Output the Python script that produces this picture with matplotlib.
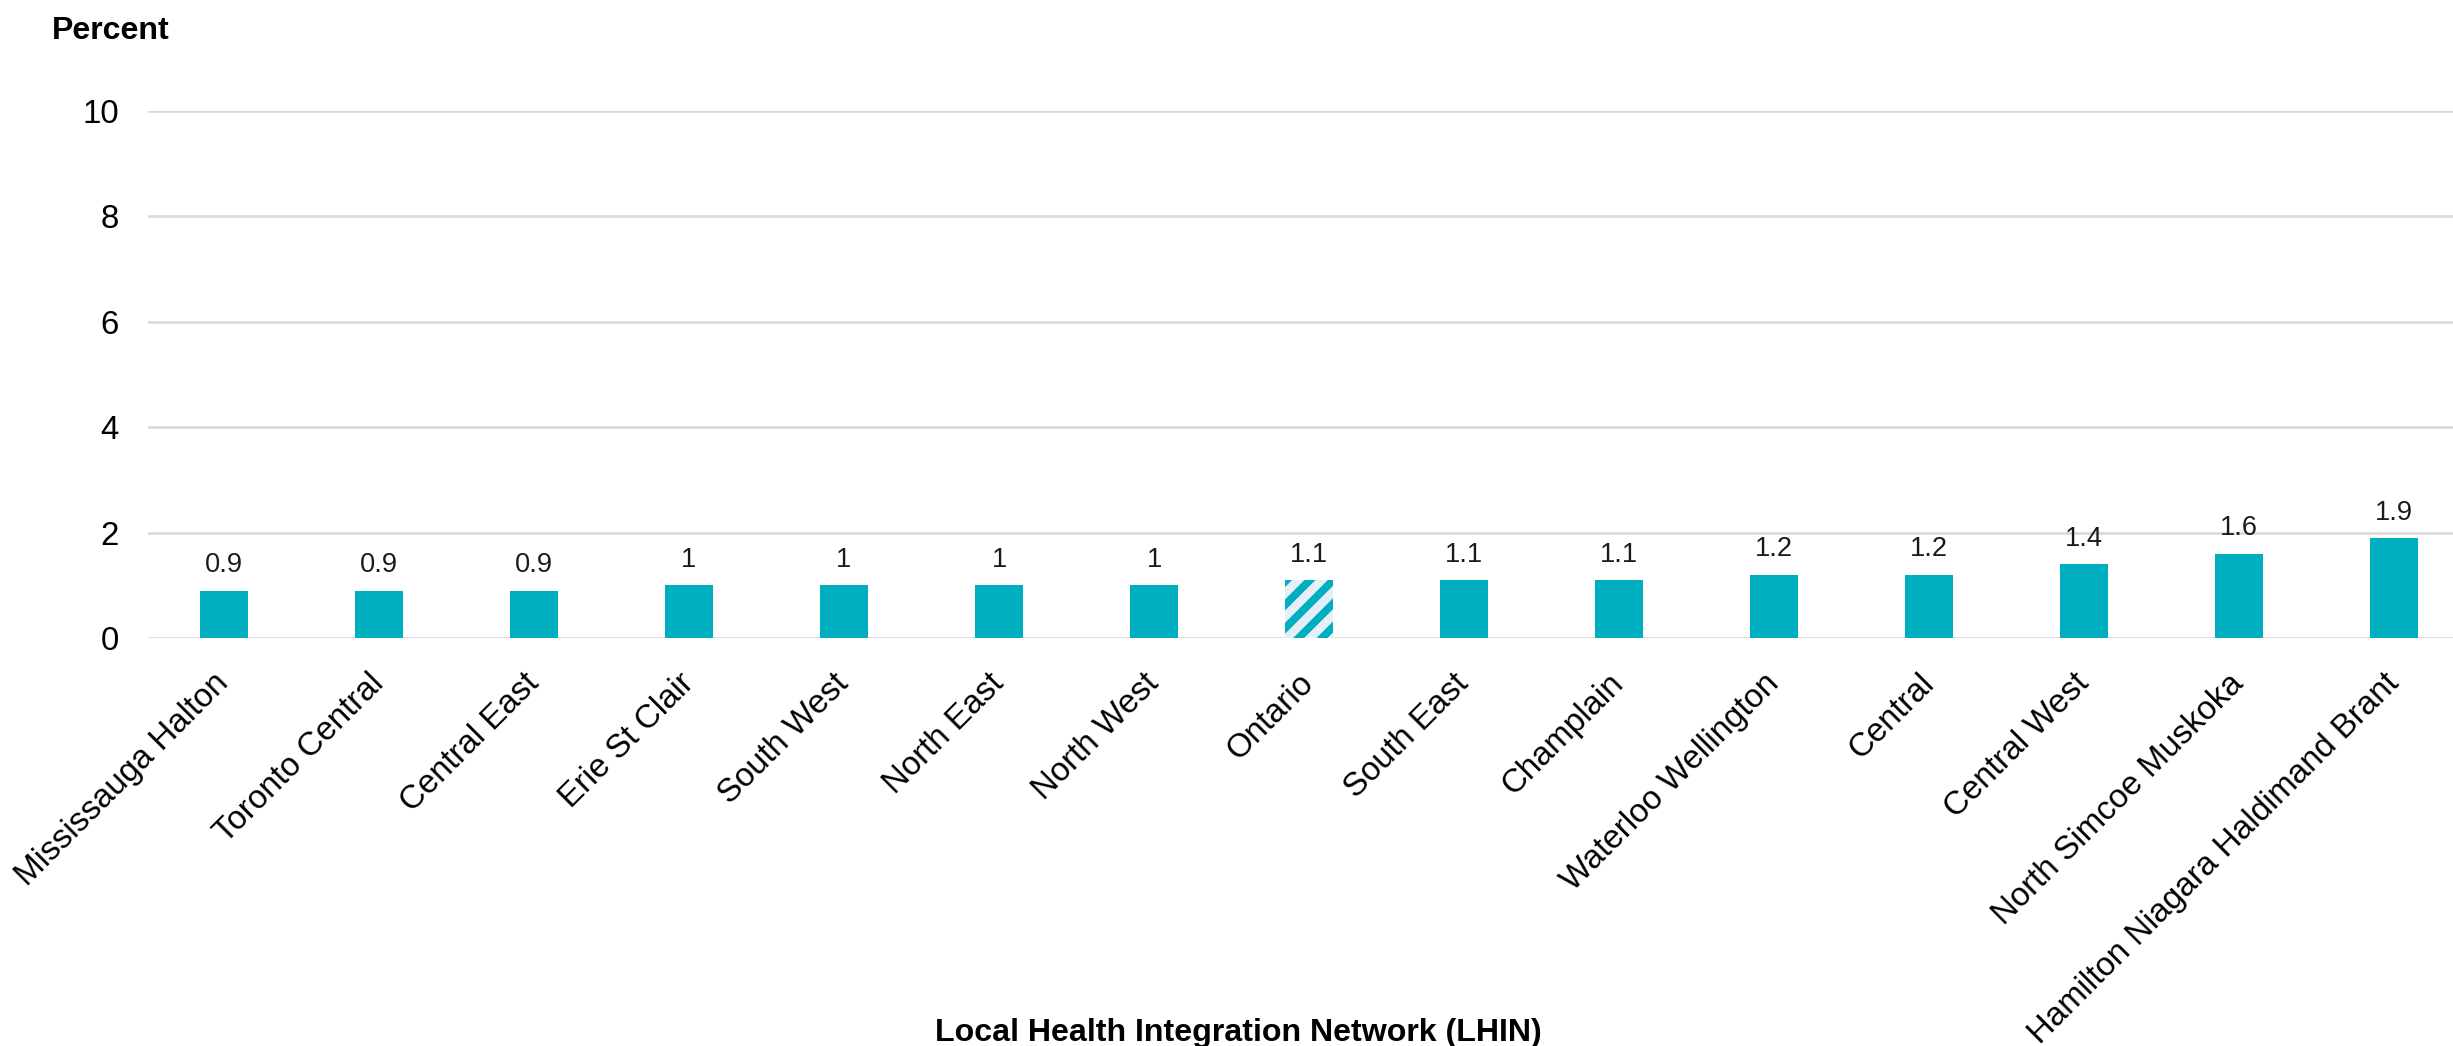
import numpy as np
import matplotlib.pyplot as plt

plt.rcParams['font.family'] = ['Liberation Sans', 'DejaVu Sans']
plt.rcParams['hatch.linewidth'] = 4.0

regions = ["Mississauga Halton", "Toronto Central", "Central East", "Erie St Clair",
           "South West", "North East", "North West", "Ontario", "South East",
           "Champlain", "Waterloo Wellington", "Central", "Central West",
           "North Simcoe Muskoka", "Hamilton Niagara Haldimand Brant"]
values = [0.9, 0.9, 0.9, 1, 1, 1, 1, 1.1, 1.1, 1.1, 1.2, 1.2, 1.4, 1.6, 1.9]
value_labels = ["0.9", "0.9", "0.9", "1", "1", "1", "1", "1.1", "1.1", "1.1",
                "1.2", "1.2", "1.4", "1.6", "1.9"]

teal = '#00AFBF'

fig = plt.figure(figsize=(2453 / 140, 1046 / 140), dpi=140)
ax = fig.add_axes([148 / 2453, 1 - 638 / 1046, 1 - 148 / 2453, (638 - 111) / 1046])

x = np.arange(len(regions))
bars = ax.bar(x, values, width=0.307, color=teal, zorder=3)

# the provincial figure is drawn hatched
ont = regions.index("Ontario")
bars[ont].set_facecolor('#E6EFF9')
bars[ont].set_edgecolor(teal)
bars[ont].set_linewidth(0)
bars[ont].set_hatch('//')

for xi, v, lab in zip(x, values, value_labels):
    ax.annotate(lab, (xi, v), xytext=(0, 13), textcoords='offset points',
                ha='center', va='center', fontsize=14, color='#1a1a1a')

ax.set_xlim(-0.49, 14.38)
ax.set_ylim(0, 10)
ax.set_yticks([0, 2, 4, 6, 8, 10])
ax.yaxis.grid(True, color='#DADADA', linewidth=1.4, zorder=0)
ax.set_axisbelow(True)
for s in ax.spines.values():
    s.set_visible(False)
ax.tick_params(axis='y', length=0, pad=15, labelsize=17)
ax.tick_params(axis='x', length=0, pad=21, labelsize=17)
ax.set_xticks(x)
ax.set_xticklabels(regions, rotation=45, ha='right', va='center', rotation_mode='anchor')

fig.text(52 / 2453, 1 - 31 / 1046, "Percent", ha='left', va='center',
         fontsize=16.5, fontweight='bold')
fig.text(1238 / 2453, 1 - 1033 / 1046, "Local Health Integration Network (LHIN)",
         ha='center', va='center', fontsize=16.5, fontweight='bold')

fig.savefig('out.png', dpi=140, facecolor='white')
